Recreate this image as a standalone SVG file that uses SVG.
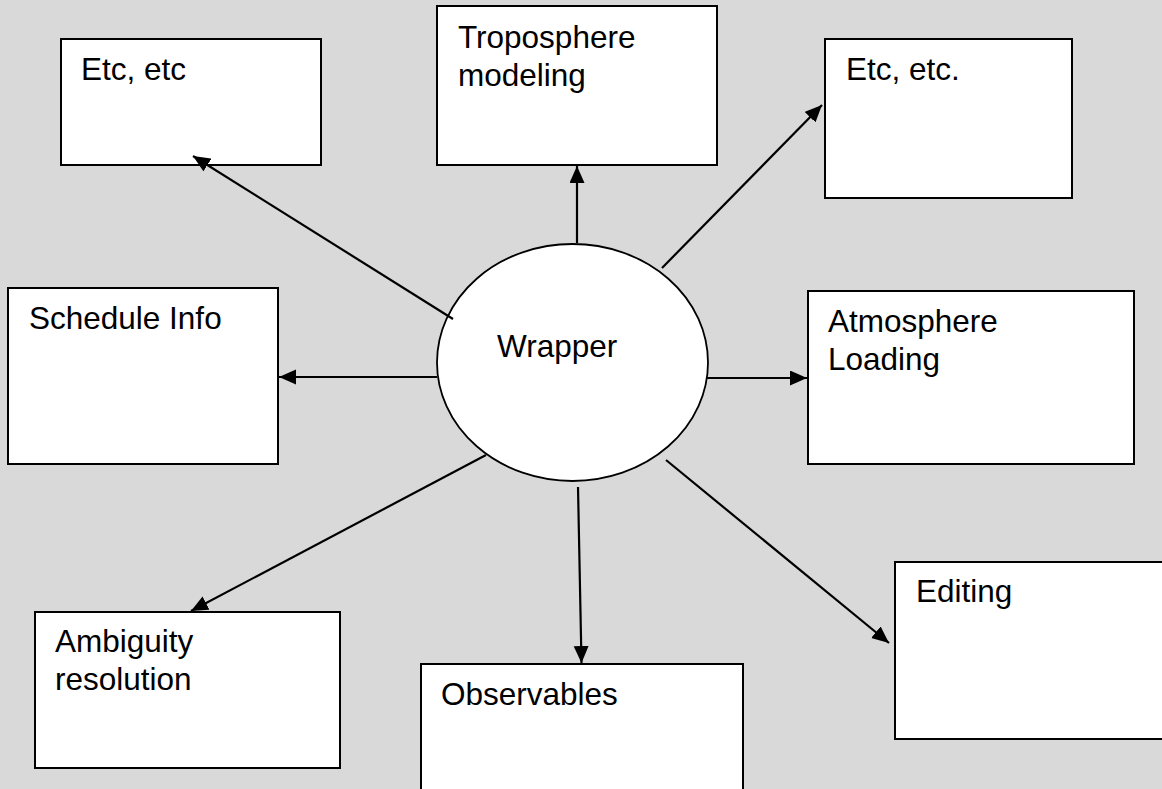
<svg xmlns="http://www.w3.org/2000/svg" width="1162" height="789" viewBox="0 0 1162 789">
<defs>
<style>
.box{fill:#fff;stroke:#000;stroke-width:2}
.ell{fill:#fff;stroke:#000;stroke-width:1.8}
.lbl{font-family:"Liberation Sans",Arial,sans-serif;font-size:31.5px;fill:#000}
.con{stroke:#000;stroke-width:2.2;fill:none;marker-end:url(#ah)}
</style>
<marker id="ah" markerUnits="userSpaceOnUse" markerWidth="18" markerHeight="16" refX="17" refY="7.5" orient="auto">
<path d="M0,0 L17,7.5 L0,15 z" fill="#000"/>
</marker>
</defs>
<rect x="0" y="0" width="1162" height="789" fill="#d9d9d9"/>
<g id="wrapper">
<ellipse class="ell" cx="572.5" cy="362.5" rx="135.5" ry="118.5"/>
<text class="lbl" x="497" y="357">Wrapper</text>
</g>
<g id="etc-left">
<rect class="box" x="61" y="39" width="260" height="126"/>
<text class="lbl" x="81" y="80">Etc, etc</text>
</g>
<g id="troposphere">
<rect class="box" x="437" y="6" width="280" height="159"/>
<text class="lbl" x="458" y="48">Troposphere</text>
<text class="lbl" x="458" y="85.5">modeling</text>
</g>
<g id="etc-right">
<rect class="box" x="825" y="39" width="247" height="159"/>
<text class="lbl" x="846" y="80">Etc, etc.</text>
</g>
<g id="schedule">
<rect class="box" x="8" y="288" width="270" height="176"/>
<text class="lbl" x="29" y="329">Schedule Info</text>
</g>
<g id="atmosphere">
<rect class="box" x="808" y="291" width="326" height="173"/>
<text class="lbl" x="828" y="332">Atmosphere</text>
<text class="lbl" x="828" y="370">Loading</text>
</g>
<g id="ambiguity">
<rect class="box" x="35" y="612" width="305" height="156"/>
<text class="lbl" x="55" y="652">Ambiguity</text>
<text class="lbl" x="55" y="690">resolution</text>
</g>
<g id="observables">
<rect class="box" x="421" y="664" width="322" height="140"/>
<text class="lbl" x="441" y="705">Observables</text>
</g>
<g id="editing">
<rect class="box" x="895" y="562" width="280" height="177"/>
<text class="lbl" x="916" y="602">Editing</text>
</g>
<g id="connectors">
<line class="con" x1="577" y1="243" x2="577" y2="166"/>
<line class="con" x1="662" y1="268" x2="822" y2="105"/>
<line class="con" x1="453" y1="319" x2="193" y2="156"/>
<line class="con" x1="437" y1="377" x2="279" y2="377"/>
<line class="con" x1="706" y1="378" x2="807" y2="378"/>
<line class="con" x1="486" y1="455" x2="191" y2="611"/>
<line class="con" x1="578" y1="487" x2="581.5" y2="663"/>
<line class="con" x1="666" y1="460" x2="889" y2="643"/>
</g>
</svg>
